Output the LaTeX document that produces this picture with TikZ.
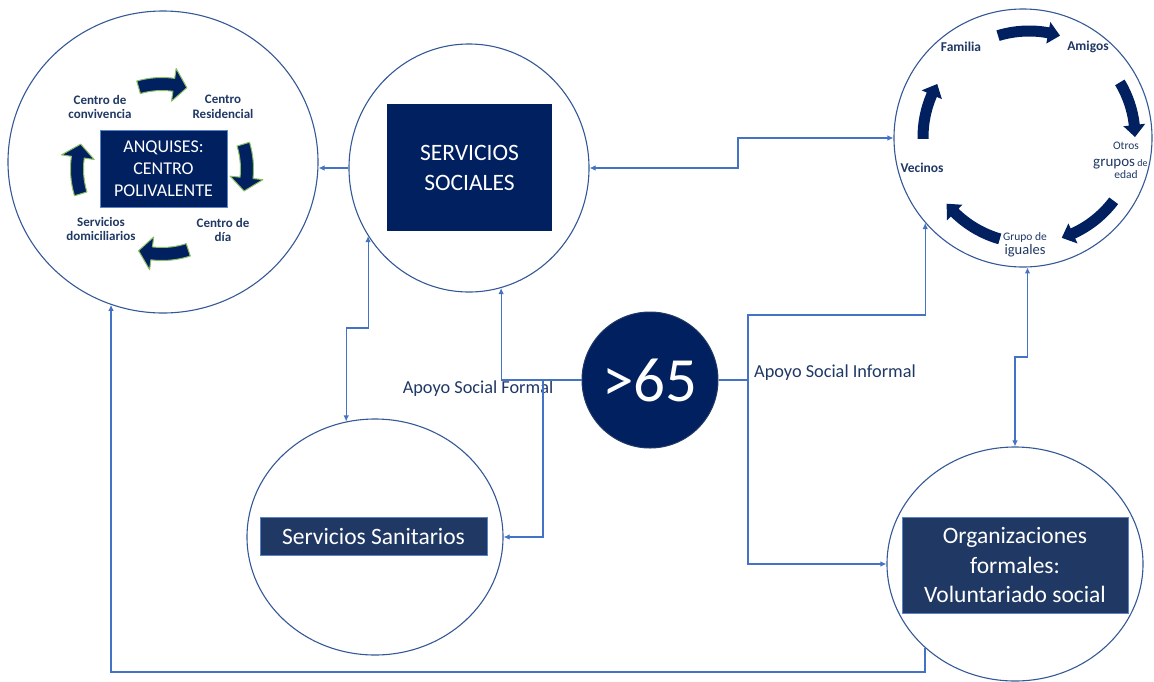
\documentclass[tikz,border=0pt]{standalone}
\usepackage{fontspec}
\setmainfont{Carlito}
\usetikzlibrary{arrows.meta,shapes.geometric}
\definecolor{navy}{RGB}{0,32,96}
\definecolor{slate}{RGB}{32,56,100}
\definecolor{ringc}{RGB}{52,88,150}
\definecolor{conn}{RGB}{68,114,196}
\definecolor{txt}{RGB}{31,56,100}
\definecolor{glow}{RGB}{140,190,100}
\definecolor{boxedge}{RGB}{90,130,200}
\tikzset{
  bigcirc/.style={draw=ringc, line width=1.1pt, ellipse, inner sep=0pt},
  conline/.style={draw=conn, line width=1.1pt},
  arr/.style={conline, -{Latex[length=6pt,width=5.5pt]}},
  arr2/.style={conline, {Latex[length=6pt,width=5.5pt]}-{Latex[length=6pt,width=5.5pt]}},
  darkbox/.style={fill=navy, text=white, align=center, inner sep=0pt},
  slatebox/.style={fill=slate, draw=boxedge, line width=0.5pt, text=white, align=center, inner sep=0pt},
  lbl/.style={text=txt, align=center, inner sep=0pt},
  ringarrow/.style={fill=navy},
  glowarrow/.style={fill=navy, draw=glow, line width=1pt, line join=round},
}
% #1 centre, #2 radius, #3 tail angle, #4 tip angle, #5 half body, #6 half head, #7 head angle, #8 style
\newcommand\blockarc[8]{%
  \begin{scope}[shift={#1}]
    \path[#8] (#3:{#2pt+#5pt}) arc[start angle=#3, end angle={#4+#7}, radius={#2pt+#5pt}]
      -- ({#4+#7}:{#2pt+#6pt}) -- (#4:#2pt) -- ({#4+#7}:{#2pt-#6pt})
      -- ({#4+#7}:{#2pt-#5pt}) arc[start angle={#4+#7}, end angle=#3, radius={#2pt-#5pt}] -- cycle;
  \end{scope}}
\begin{document}
\begin{tikzpicture}[x=1pt,y=-1pt]
\useasboundingbox (0,0) rectangle (1154,681);

% big circles
\node[bigcirc, minimum width=310pt, minimum height=302pt] (anq) at (163,162) {};
\node[bigcirc, minimum width=240pt, minimum height=248pt] (ss) at (469,168) {};
\node[bigcirc, minimum width=258pt, minimum height=258pt] (tr) at (1023,138) {};
\node[bigcirc, minimum width=256pt, minimum height=236pt] (san) at (375,537) {};
\node[bigcirc, minimum width=256pt, minimum height=234pt] (org) at (1015,564) {};
\node[circle, fill=navy, draw=slate, line width=1pt, minimum size=136pt, inner sep=0pt,
      text=white, font=\fontsize{63}{70}\selectfont] (o65) at (650,380) {>65};

% boxes
\node[darkbox, draw=boxedge, line width=0.6pt, minimum width=127pt, minimum height=77pt,
      font=\fontsize{18}{22}\selectfont] (anqbox) at (163.5,168.5) {ANQUISES:\\CENTRO\\POLIVALENTE};
\node[darkbox, minimum width=165pt, minimum height=127pt,
      font=\fontsize{23.5}{30}\selectfont] (ssbox) at (469.5,167.5) {SERVICIOS\\SOCIALES};
\node[slatebox, minimum width=227pt, minimum height=38pt,
      font=\fontsize{23.5}{28}\selectfont] (sanbox) at (373.5,536) {Servicios Sanitarios};
\node[slatebox, minimum width=226pt, minimum height=96pt,
      font=\fontsize{23.5}{29.5}\selectfont] (orgbox) at (1015,565) {Organizaciones\\formales:\\Voluntariado social};

% left ring labels
\node[lbl, font=\fontsize{13}{14.5}\selectfont\bfseries] (l1) at (100,107) {Centro de\\convivencia};
\node[lbl, font=\fontsize{13}{14.5}\selectfont\bfseries] (l2) at (223,107) {Centro\\Residencial};
\node[lbl, font=\fontsize{13}{14.5}\selectfont\bfseries] (l3) at (223,230) {Centro de\\día};
\node[lbl, font=\fontsize{13}{14.5}\selectfont\bfseries] (l4) at (101,229) {Servicios\\domiciliarios};

% left ring arrows
\blockarc{(162,169)}{85}{106}{73}{6.5}{16.5}{9}{glowarrow}
\blockarc{(162,169)}{85}{17}{-15}{6.5}{16.5}{9}{glowarrow}
\blockarc{(162,169)}{85}{-72}{-106}{6.5}{16.5}{9}{glowarrow}
\blockarc{(162,169)}{85}{197}{163}{6.5}{16.5}{9}{glowarrow}

% right ring arrows
\blockarc{(1029,137)}{106}{107}{73}{5.5}{11}{6.5}{ringarrow}
\blockarc{(1029,137)}{106}{31}{0}{5.5}{11}{6.5}{ringarrow}
\blockarc{(1029,137)}{106}{-37}{-72}{5.5}{11}{6.5}{ringarrow}
\blockarc{(1029,137)}{106}{-106}{-141}{5.5}{11}{6.5}{ringarrow}
\blockarc{(1029,137)}{106}{181}{150}{5.5}{11}{6.5}{ringarrow}

% right ring labels
\node[lbl, font=\fontsize{13.5}{16}\selectfont\bfseries] (fam) at (961,47) {Familia};
\node[lbl, font=\fontsize{13.5}{16}\selectfont\bfseries] (ami) at (1088,47) {Amigos};
\node[lbl, font=\fontsize{13.5}{16}\selectfont\bfseries] (vec) at (922,168) {Vecinos};
\node[lbl, font=\fontsize{11.5}{13}\selectfont] (otr) at (1126,146) {Otros};
\node[lbl, font=\fontsize{15}{17}\selectfont, anchor=base west] (gru) at (1093,166) {grupos\fontsize{10}{12}\selectfont\ de};
\node[lbl, font=\fontsize{11.5}{13}\selectfont] (eda) at (1126,175) {edad};
\node[lbl, font=\fontsize{11.5}{13}\selectfont] (gde) at (1025,237) {Grupo de};
\node[lbl, font=\fontsize{14.5}{17}\selectfont] (igu) at (1025,251) {iguales};

% connector labels
\node[lbl, font=\fontsize{18.3}{22}\selectfont] (asf) at (478,389) {Apoyo Social Formal};
\node[lbl, font=\fontsize{18.3}{22}\selectfont] (asi) at (835,373) {Apoyo Social Informal};

% connectors
\coordinate (k1) at (360,328);
\coordinate (k2) at (738,150);
\coordinate (k3) at (748,315);
\coordinate (k4) at (1020,357);
\coordinate (k5) at (500,672);
\coordinate (b1) at (543,380);
\coordinate (b2) at (748,380);

\draw[arr] (ss.west) -- (ss.west -| anq.east);
\draw[arr2] (ss.east) -| (k2) |- (tr.west);
\draw[arr2] (ss.214) |- (k1) -| (san.104);
\draw[arr] (o65.west) -| (ss.285);
\draw[arr] (b1) |- (san.east);
\draw[arr] (o65.east) -| (k3) -| (tr.221);
\draw[arr] (b2) |- (org.west);
\draw[arr2] (tr.272) |- (k4) -| (org.north);
\draw[arr] (org.223) |- (k5) -| (anq.250);
\end{tikzpicture}
\end{document}
